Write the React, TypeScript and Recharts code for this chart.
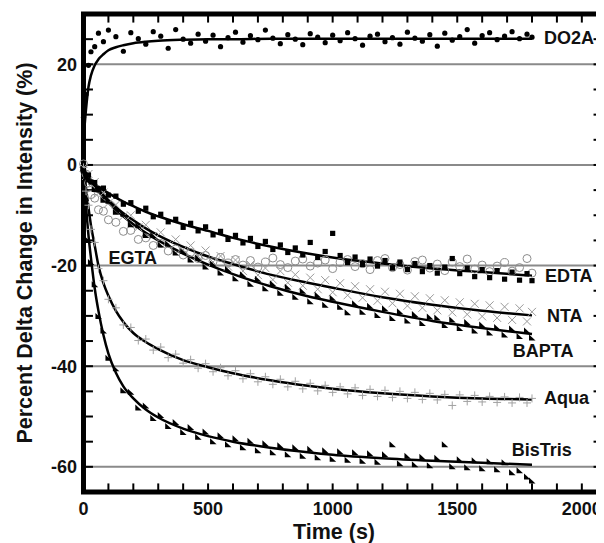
import React from 'react'
import {
  ComposedChart,
  Scatter,
  Line,
  XAxis,
  YAxis,
  ReferenceLine,
  ReferenceDot,
} from 'recharts'

// sampling times (s) for the measured points
const times = [
  0, 10, 20, 30, 45, 60, 80, 100,
  130, 160, 190, 220, 250, 280, 310, 340,
  370, 400, 430, 460, 490, 520, 550, 580,
  610, 640, 670, 700, 730, 760, 790, 820,
  850, 880, 910, 940, 970, 1000, 1030, 1060,
  1090, 1120, 1150, 1180, 1210, 1240, 1270, 1300,
  1330, 1360, 1390, 1420, 1450, 1480, 1510, 1540,
  1570, 1600, 1630, 1660, 1690, 1720, 1750, 1780,
  1800,
]

const do2a = [
  9.5, 14, 19.8, 22.5, 23.5, 26.2, 24.5, 26.8,
  25.5, 22.6, 26.3, 25.1, 24.0, 26.5, 25.6, 23.2,
  26.9, 25.0, 24.2, 26.0, 24.6, 25.8, 23.5, 25.3,
  26.4, 24.4, 25.7, 24.9, 26.8, 25.2, 24.1, 25.9,
  25.0, 23.9, 26.1, 25.4, 24.3, 25.8, 24.7, 26.3,
  25.1, 23.8, 25.6, 26.0, 24.5, 25.3, 24.0, 26.4,
  25.2, 24.6, 25.9, 23.6, 26.2, 24.8, 25.5, 26.9,
  24.2, 25.7, 26.3, 24.9, 25.6, 26.5, 25.1, 26.0,
  25.4,
]

const edta = [
  -1.2, -2.3, -2.0, -3.4, -3.5, -4.8, -4.6, -6.0,
  -6.2, -7.8, -7.5, -9.2, -8.6, -10.3, -9.8, -11.3,
  -10.8, -12.4, -11.6, -13.1, -12.3, -13.9, -13.2, -14.8,
  -14.0, -15.5, -14.6, -16.2, -15.2, -16.8, -15.9, -17.4,
  -16.5, -17.9, -15.4, -18.4, -17.2, -13.6, -18.0, -19.4,
  -18.3, -19.8, -18.7, -20.1, -19.0, -20.5, -19.3, -20.8,
  -19.6, -21.2, -20.0, -21.5, -20.3, -18.6, -21.6, -20.5,
  -22.2, -20.8, -22.4, -21.0, -22.7, -21.3, -22.9, -21.6,
  -23.0,
]

const egta = [
  0.2, -1.8, -3.6, -5.9, -6.6, -8.9, -9.2, -10.9,
  -11.4, -13.2, -13.0, -14.8, -14.5, -16.0, -15.6, -17.1,
  -16.7, -17.9, -17.4, -18.6, -18.0, -19.2, -18.4, -19.5,
  -18.8, -19.9, -19.0, -20.3, -19.3, -18.5, -19.8, -20.4,
  -19.1, -18.7, -20.1, -19.5, -18.9, -20.6, -19.4, -18.8,
  -20.2, -19.6, -20.8, -19.0, -18.6, -20.4, -19.8, -20.9,
  -19.2, -18.9, -20.5, -19.7, -21.0, -19.3, -20.2, -18.7,
  -20.7, -19.9, -21.2, -20.1, -19.4, -21.1, -20.4, -18.6,
  -21.5,
]

const nta = [
  -0.5, -2.2, -1.8, -3.8, -3.4, -5.6, -5.5, -7.6,
  -7.9, -10.2, -10.0, -12.4, -11.9, -14.1, -13.4, -15.7,
  -14.8, -16.9, -16.0, -18.1, -17.0, -19.3, -18.1, -20.2,
  -18.9, -21.1, -19.8, -21.9, -20.5, -22.8, -21.1, -23.4,
  -21.8, -24.0, -22.4, -24.7, -22.9, -25.3, -23.5, -25.9,
  -24.1, -26.4, -24.7, -27.0, -25.2, -27.5, -25.6, -28.0,
  -26.1, -28.4, -26.5, -28.9, -26.9, -29.3, -27.3, -29.7,
  -27.6, -30.1, -27.9, -30.4, -28.2, -30.8, -28.5, -31.1,
  -29.2,
]

const bapta = [
  -0.8, -1.4, -3.0, -3.1, -4.9, -5.0, -7.0, -7.2,
  -9.4, -9.8, -11.9, -12.1, -14.0, -14.0, -15.9, -15.7,
  -17.5, -17.2, -18.9, -18.5, -20.3, -19.7, -21.5, -20.8,
  -22.6, -21.8, -23.7, -22.7, -24.6, -23.6, -25.5, -24.3,
  -26.3, -25.1, -27.2, -25.9, -27.9, -26.5, -28.3, -29.4,
  -27.6, -29.3, -28.1, -29.9, -28.6, -30.5, -29.2, -31.0,
  -29.7, -31.5, -30.2, -30.4, -31.9, -30.8, -32.5, -31.3,
  -33.0, -31.8, -33.4, -32.3, -33.8, -32.6, -34.1, -33.0,
  -34.4,
]

const aqua = [
  -0.5, -5.2, -8.0, -12.8, -15.4, -20.6, -23.0, -26.7,
  -28.4, -31.8, -32.3, -34.9, -34.6, -36.8, -36.2, -38.3,
  -37.6, -39.4, -38.7, -40.4, -39.5, -41.1, -40.3, -41.9,
  -40.9, -42.5, -41.5, -43.1, -42.1, -43.6, -42.6, -44.1,
  -43.0, -44.5, -43.4, -44.9, -43.8, -45.2, -44.1, -45.5,
  -44.3, -45.8, -44.6, -46.0, -44.8, -46.2, -45.0, -46.4,
  -45.2, -46.6, -45.4, -46.7, -45.6, -47.8, -45.7, -47.0,
  -45.8, -47.1, -46.0, -47.2, -46.1, -47.3, -46.2, -47.3,
  -46.4,
]

const bistris = [
  -1.0, -7.2, -15.0, -19.4, -23.8, -30.1, -33.0, -38.4,
  -40.5, -44.9, -45.2, -48.3, -47.9, -50.4, -49.8, -52.0,
  -51.2, -53.2, -52.2, -54.1, -53.1, -55.0, -53.8, -55.6,
  -54.4, -56.2, -54.9, -56.8, -55.4, -57.2, -55.8, -57.6,
  -56.2, -57.9, -56.5, -58.2, -56.8, -58.5, -57.0, -58.7,
  -57.2, -58.9, -57.4, -59.1, -57.6, -55.6, -59.4, -57.9,
  -59.6, -58.1, -59.8, -58.3, -55.6, -60.0, -58.6, -60.2,
  -58.8, -60.4, -59.0, -60.6, -59.2, -61.2, -60.8, -62.0,
  -62.8,
]

// fitted curves
const fitTimes = [0, 10, 20, 30, 45, 60, 80, 100, 130, 160, 200, 250, 300, 400, 500, 600, 750, 900, 1000, 1200, 1400, 1600, 1800]
const do2aFit = [5, 11, 15.5, 17.8, 19.8, 21, 22, 22.8, 23.4, 23.8, 24.2, 24.5, 24.7, 24.9, 25, 25, 25.1, 25.1, 25.1, 25.1, 25.1, 25.1, 25.1]
const edtaFit = [-1.5, -2, -2.5, -3, -3.8, -4.3, -5, -5.6, -6.5, -7.3, -8.2, -9.3, -10.2, -11.8, -13.1, -14.5, -16.2, -17.6, -18.4, -19.6, -20.6, -21.3, -22]
const ntaFit = [-1, -1.7, -2.4, -3.1, -4, -4.9, -6, -7, -8.4, -9.6, -11, -12.6, -14, -16.3, -18.2, -19.7, -21.8, -23.4, -24.4, -26.3, -27.8, -29, -29.9]
const baptaFit = [-1, -1.8, -2.6, -3.4, -4.4, -5.3, -6.5, -7.5, -8.9, -10.2, -11.8, -13.5, -15, -17.6, -19.8, -21.7, -24.1, -26.1, -27.2, -29.2, -31, -32.4, -33.6]
const aquaFit = [0, -4.5, -8.5, -12, -16, -20, -23.5, -26, -29, -31.2, -33.4, -35.2, -36.6, -38.8, -40.2, -41.4, -42.8, -43.9, -44.5, -45.4, -46, -46.4, -46.6]
const bistrisFit = [0, -8, -14, -18.5, -24.5, -29, -33.8, -37.5, -41.3, -44, -46.4, -48.6, -50.2, -52.4, -53.9, -55, -56.2, -57.1, -57.6, -58.3, -58.8, -59.2, -59.6]

// frame sits at these values; the domain is a little wider so the heavy
// frame stroke is not cut in half by the plot clip
const X_MIN = 0
const X_MAX = 2085
const Y_MIN = -65
const Y_MAX = 30
const X_DOMAIN = [-10, 2097]
const Y_DOMAIN = [-65.6, 30.6]

const xTicks = [0, 100, 200, 300, 400, 500, 600, 700, 800, 900, 1000, 1100, 1200, 1300, 1400, 1500, 1600, 1700, 1800, 1900, 2000]
const yTicks = [-65, -60, -55, -50, -45, -40, -35, -30, -25, -20, -15, -10, -5, 0, 5, 10, 15, 20, 25, 30]
const gridValues = [20, 0, -20, -40, -60]

// inward tick length in data units (about 8-9 px)
const X_TICK_LEN = 1.7
const Y_TICK_LEN = 38

const labels = [
  { name: 'DO2A', t: 1848, v: 24.0 },
  { name: 'EDTA', t: 1852, v: -23.3 },
  { name: 'NTA', t: 1860, v: -31.3 },
  { name: 'BAPTA', t: 1723, v: -38.2 },
  { name: 'Aqua', t: 1848, v: -47.6 },
  { name: 'BisTris', t: 1719, v: -57.9 },
  { name: 'EGTA', t: 100, v: -19.7 },
]

const FONT = '"Liberation Sans", Arial, sans-serif'

const pts = (vals: number[]) => times.map((t, i) => ({ t, v: vals[i] }))
const fit = (vals: number[]) => fitTimes.map((t, i) => ({ t, v: vals[i] }))

// closed box around the plot area
const frame = [
  { t: X_MIN, v: Y_MIN },
  { t: X_MIN, v: Y_MAX },
  { t: X_MAX, v: Y_MAX },
  { t: X_MAX, v: Y_MIN },
  { t: X_MIN, v: Y_MIN },
]

const Dot = (p: any) => <circle cx={p.cx} cy={p.cy} r={2.6} fill="#000" />
const Square = (p: any) => <rect x={p.cx - 2.6} y={p.cy - 2.6} width={5.2} height={5.2} fill="#000" />
const OpenCircle = (p: any) => <circle cx={p.cx} cy={p.cy} r={4} fill="none" stroke="#8c8c8c" strokeWidth={1} />
const Cross = (p: any) => (
  <path d={`M${p.cx - 4},${p.cy - 4}L${p.cx + 4},${p.cy + 4}M${p.cx - 4},${p.cy + 4}L${p.cx + 4},${p.cy - 4}`} stroke="#9a9a9a" strokeWidth={1} />
)
const Plus = (p: any) => (
  <path d={`M${p.cx - 4},${p.cy}L${p.cx + 4},${p.cy}M${p.cx},${p.cy - 4}L${p.cx},${p.cy + 4}`} stroke="#a0a0a0" strokeWidth={1} />
)
const Tri = (p: any) => (
  <path d={`M${p.cx - 3},${p.cy - 3.5}L${p.cx + 3.5},${p.cy + 2.5}L${p.cx - 3},${p.cy + 2.5}Z`} fill="#000" />
)

const BottomLabel = (p: any) =>
  p.payload.value % 500 === 0 ? (
    <text x={p.x} y={p.y + 20} textAnchor="middle" fontFamily={FONT} fontWeight="bold" fontSize={18} fill="#111">
      {p.payload.value}
    </text>
  ) : (
    <g />
  )
const LeftLabel = (p: any) =>
  p.payload.value % 20 === 0 ? (
    <text x={p.x - 4} y={p.y + 6.5} textAnchor="end" fontFamily={FONT} fontWeight="bold" fontSize={18} fill="#111">
      {p.payload.value}
    </text>
  ) : (
    <g />
  )

const XTitle = (p: any) => (
  <text x={p.viewBox.x + 253} y={p.viewBox.y + 43.5} textAnchor="middle" fontFamily={FONT} fontWeight="bold" fontSize={21.5} fill="#111">
    Time (s)
  </text>
)
const YTitle = (p: any) => {
  const cx = 24
  const cy = p.viewBox.y + p.viewBox.height / 2
  return (
    <text x={cx} y={cy} transform={`rotate(-90 ${cx} ${cy})`} textAnchor="middle" fontFamily={FONT} fontWeight="bold" fontSize={21.5} fill="#111">
      Percent Delta Change in Intensity (%)
    </text>
  )
}
const Ann = (p: any) => (
  <text x={p.viewBox.x} y={p.viewBox.y} fontFamily={FONT} fontWeight="bold" fontSize={18} fill="#111">
    {p.txt}
  </text>
)

export default function App() {
  return (
    <div style={{ width: 596, height: 535, overflow: 'hidden' }}>
      <ComposedChart width={598} height={535} margin={{ top: 3, right: 0, bottom: 0, left: 0 }}>
        <XAxis
          dataKey="t"
          type="number"
          domain={X_DOMAIN}
          ticks={xTicks}
          interval={0}
          tickSize={0}
          tickMargin={0}
          tickLine={false}
          tick={BottomLabel}
          axisLine={false}
          height={48}
          label={<XTitle />}
        />
        <YAxis
          dataKey="v"
          type="number"
          domain={Y_DOMAIN}
          ticks={yTicks}
          interval={0}
          tickSize={0}
          tickMargin={0}
          tickLine={false}
          tick={LeftLabel}
          axisLine={false}
          width={73}
          label={<YTitle />}
        />
        {gridValues.map((g) => (
          <ReferenceLine key={g} y={g} segment={[{ x: X_MIN, y: g }, { x: X_MAX, y: g }]} stroke="#8a8a8a" strokeWidth={2} />
        ))}

        <Scatter data={pts(egta)} dataKey="v" shape={OpenCircle} isAnimationActive={false} />
        <Scatter data={pts(nta)} dataKey="v" shape={Cross} isAnimationActive={false} />
        <Scatter data={pts(aqua)} dataKey="v" shape={Plus} isAnimationActive={false} />
        <Scatter data={pts(do2a)} dataKey="v" shape={Dot} isAnimationActive={false} />
        <Scatter data={pts(edta)} dataKey="v" shape={Square} isAnimationActive={false} />
        <Scatter data={pts(bapta)} dataKey="v" shape={Tri} isAnimationActive={false} />
        <Scatter data={pts(bistris)} dataKey="v" shape={Tri} isAnimationActive={false} />

        {[do2aFit, edtaFit, ntaFit, baptaFit, aquaFit, bistrisFit].map((f, i) => (
          <Line
            key={i}
            data={fit(f)}
            dataKey="v"
            type="monotone"
            stroke="#000"
            strokeWidth={2.5}
            dot={false}
            activeDot={false}
            isAnimationActive={false}
          />
        ))}

        {/* inward ticks on all four sides */}
        {xTicks.map((t) => (
          <ReferenceLine key={'b' + t} segment={[{ x: t, y: Y_MIN }, { x: t, y: Y_MIN + X_TICK_LEN }]} stroke="#000" strokeWidth={2} />
        ))}
        {xTicks.map((t) => (
          <ReferenceLine key={'t' + t} segment={[{ x: t, y: Y_MAX }, { x: t, y: Y_MAX - X_TICK_LEN }]} stroke="#000" strokeWidth={2} />
        ))}
        {yTicks.map((v) => (
          <ReferenceLine key={'l' + v} segment={[{ x: X_MIN, y: v }, { x: X_MIN + Y_TICK_LEN, y: v }]} stroke="#000" strokeWidth={2} />
        ))}
        {yTicks.map((v) => (
          <ReferenceLine key={'r' + v} segment={[{ x: X_MAX, y: v }, { x: X_MAX - Y_TICK_LEN, y: v }]} stroke="#000" strokeWidth={2} />
        ))}

        {/* heavy frame */}
        <Line
          data={frame}
          dataKey="v"
          type="linear"
          stroke="#000"
          strokeWidth={5}
          strokeLinejoin="miter"
          strokeLinecap="square"
          dot={false}
          activeDot={false}
          isAnimationActive={false}
        />

        {labels.map((l) => (
          <ReferenceDot key={l.name} x={l.t} y={l.v} r={0} fill="none" stroke="none" label={<Ann txt={l.name} />} />
        ))}
      </ComposedChart>
    </div>
  )
}
